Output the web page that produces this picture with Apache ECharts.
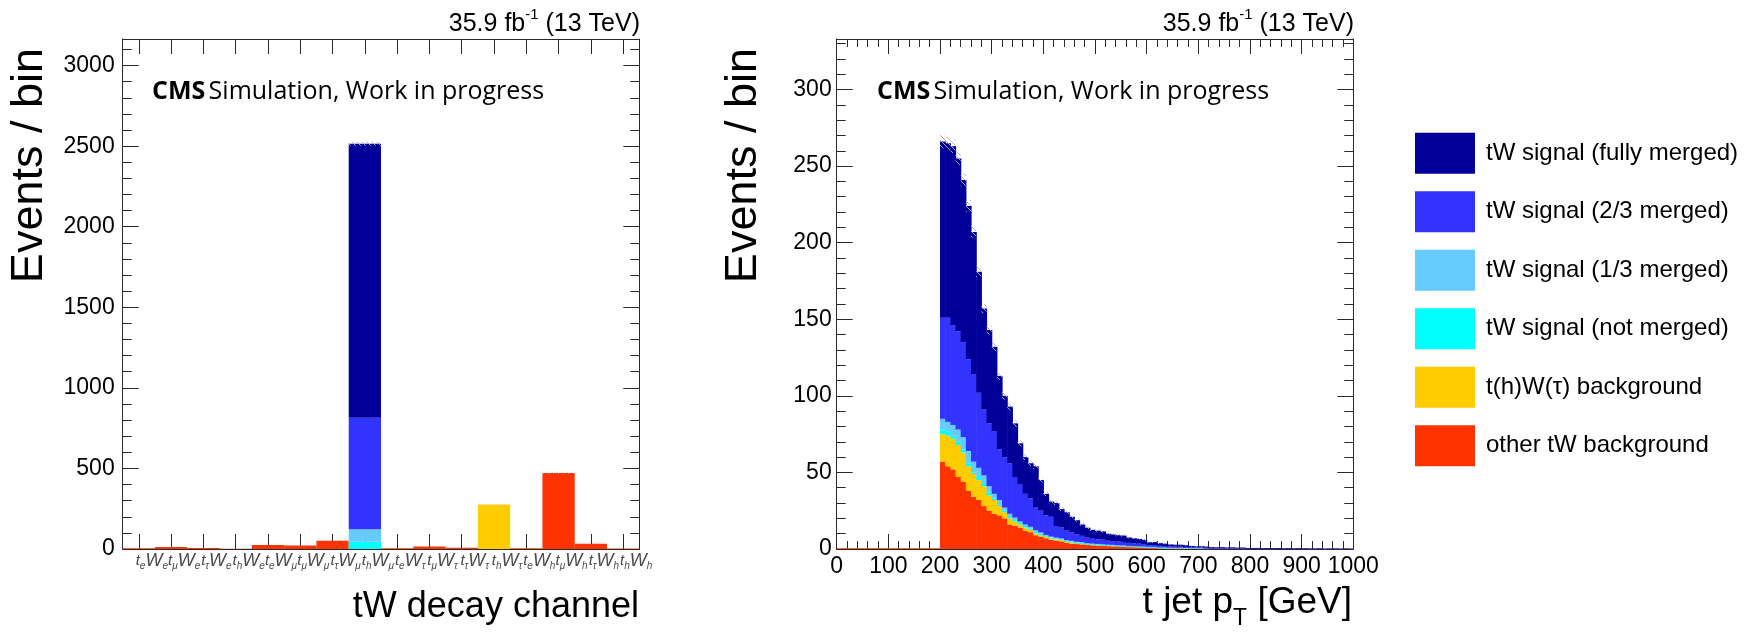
<!DOCTYPE html>
<html><head><meta charset="utf-8">
<script src="https://cdn.jsdelivr.net/npm/echarts@6/dist/echarts.min.js"></script>
<style>html,body{margin:0;padding:0;background:#fff}#c{width:1758px;height:632px}</style>
</head><body><div id="c"></div>
<script>
// ---------- names / colours ----------
const seriesNames = ['tW signal (fully merged)', 'tW signal (2/3 merged)', 'tW signal (1/3 merged)', 'tW signal (not merged)', 't(h)W(\u03c4) background', 'other tW background'];
const seriesColors = ['#000099', '#3333ff', '#66ccff', '#00ffff', '#ffcc00', '#ff3300'];

// ---------- left: tW decay channel ----------
const chanTop = ['e','\u03bc','\u03c4','h','e','\u03bc','\u03c4','h','e','\u03bc','\u03c4','h','e','\u03bc','\u03c4','h'];
const chanW   = ['e','e','e','e','\u03bc','\u03bc','\u03bc','\u03bc','\u03c4','\u03c4','\u03c4','\u03c4','h','h','h','h'];
const chFully   = [0,0,0,0,0,0,0,1700,0,0,0,0,0,0,0,0];
const chTwoThr  = [0,0,0,0,0,0,0,693,0,0,0,0,0,0,0,0];
const chOneThr  = [0,0,0,0,0,0,0,77,0,0,0,0,0,0,0,0];
const chNot     = [0,0,0,0,0,0,0,45,0,0,0,0,0,0,0,0];
const chThWtau  = [0,0,0,0,0,0,0,0,0,0,0,276,0,0,0,0];
const chOther   = [5,12,6,2,25,22,51,0,4,15,8,0,5,471,32,3];
const chUnc     = [0.5,0.8,0.5,0.3,1,1,1.5,12,0.4,0.8,0.6,3,0.5,4,1,0.3];

// ---------- right: t jet pT, 10 GeV bins from 200 to 1000 GeV ----------
const ptFirstEdge = 200, ptBinWidth = 10;
const ptBelow200Other = [0.5,0.5,0.5,0.5,0.5,0.5,0.5,0.5,0.5,0.5,0.5,0.5,0.5,0.5,0.5,0.5,0.5,0.5,0.5,0.5];
const ptOther = [57,54,52,47,44,38,34,32,28,25,23,22,20,16,15,14,12,11,9,8,7,6,5.5,5,4,3.5,
  3.2,3,2.6,2.4,2.2,2.1,1.9,1.8,1.7,1.6,1.4,1.3,1.3,1.1,0.9,0.9,0.8,0.7,0.6,0.6,
  0.6,0.5,0.4,0.4,0.4,0.3,0.3,0.3,0.3,0.2,0.3,0.2,0.2,0.2,0.2,0.2,0.1,0.2,0.1,0.2,
  0.1,0.1,0.1,0.1,0.1,0.1,0.1,0.1,0.1,0.1,0.1,0.1,0.1,0.1];
const ptThWtau = [18,20,20,21,19,16,15,13,13,10,9,6,4,4,3,2,2,1.5,1.2,1,1,0.9,0.8,0.8,0.7,0.7,
  0.6,0.6,0.5,0.5,0.5,0.4,0.4,0.4,0.3,0.3,0.3,0.3,0.2,0.2,0.2,0.2,0.1,0.1,0.1,0.1,
  0.1,0.1,0.1,0.1,0.1,0,0,0,0,0,0,0,0,0,0,0,0,0,0,0,0,0,0,0,0,0,0,0,0,0,0,0,0,0];
const ptNot = [3,3,2,2,2,2,1,2,2,2,1,1,1,1,1,1,1,1,1,1,0.5,0.5,0.5,0.5,0.5,0.5,
  0.3,0.3,0.2,0.2,0.2,0.2,0.2,0.2,0.1,0.1,0.1,0.1,0.1,0.1,0.1,0.1,0.1,0.1,
  0,0,0,0,0,0,0,0,0,0,0,0,0,0,0,0,0,0,0,0,0,0,0,0,0,0,0,0,0,0,0,0,0,0,0,0];
const ptOneThr = [7,6,7,8,8,8,7,6,5,4,3,3,2,2,1.5,1,1,1,1,0.8,0.7,0.7,0.6,0.6,0.6,0.6,
  0.6,0.5,0.5,0.4,0.4,0.4,0.3,0.3,0.3,0.3,0.2,0.2,0.2,0.2,0.2,0.2,0.1,0.1,0.1,0.1,
  0.1,0.1,0.1,0.1,0.1,0.1,0,0,0,0,0,0,0,0,0,0,0,0,0,0,0,0,0,0,0,0,0,0,0,0,0,0,0,0];
const ptTwoThr = [66,68,65,64,62,60,57,49,43,41,41,33,33,33,26.5,24,20,18.5,14.8,14.2,12.8,12.9,7.6,7.1,6.2,5.7,
  5,4.2,3.6,3.2,3,3,2.6,2.4,2.4,2.3,2,1.8,1.7,1.6,1.1,1.2,1,0.9,0.8,0.7,
  0.7,0.6,0.5,0.5,0.5,0.4,0.3,0.3,0.3,0.3,0.3,0.2,0.3,0.2,0.2,0.2,0.1,0.2,0.1,0.2,
  0.1,0.1,0.1,0.1,0.1,0.1,0.1,0.1,0.05,0.1,0.1,0.05,0.1,0.05];
const ptFully = [115,114,117,113,106,100,93,79,66,61,55,48,40,37,35,27,24,23,27,20,14,10,15,12,12,10,
  9.1,7.4,6.5,5.8,5.7,5.4,4.6,4.4,4.2,4.2,3.5,3.3,3.1,2.8,1.9,1.9,1.7,1.6,1.4,1.3,
  1.3,1.2,0.9,0.7,0.7,0.8,0.6,0.5,0.6,0.5,0.5,0.5,0.5,0.3,0.2,0.3,0.3,0.2,0.3,0.2,
  0.2,0.3,0.2,0.3,0.2,0.1,0.1,0.2,0.05,0.1,0.1,0.05,0.1,0.05];
// statistical uncertainty (+/-) on the stacked total
const ptUnc = [4.5,4.5,4.4,4.3,4.1,3.9,3.7,3.4,3.1,3,2.9,2.6,2.5,2.4,2.2,2,1.9,1.8,1.8,1.6,
  1.4,1.3,1.3,1.2,1.1,1.1,1,0.9,0.9,0.8,0.8,0.8,0.7,0.7,0.7,0.7,0.6,0.6,0.6,0.6,0.5,
  0.5,0.5,0.5,0.5,0.4,0.4,0.4,0.4,0.4,0.4,0.3,0.3,0.3,0.3,0.3,0.3,0.3,0.3,0.3,0.3,
  0.2,0.2,0.2,0.2,0.2,0.2,0.2,0.2,0.2,0.2,0.2,0.2,0.2,0.2,0.2,0.2,0.2,0.2,0.2];

// text
const lumiText = '35.9 fb';
const cmsLabel = 'Simulation, Work in progress';

// ---------- build ----------
const chart = echarts.init(document.getElementById('c'), null, {renderer: 'canvas'});
const FONT = 'Liberation Sans, Arial, Helvetica, sans-serif';
const HUM = 'Open Sans, Noto Sans, sans-serif';
const AX = '#2a2a2a';

// hatch pattern for the uncertainty band
const hatchCanvas = document.createElement('canvas');
hatchCanvas.width = 5; hatchCanvas.height = 5;
(function () {
  const g = hatchCanvas.getContext('2d');
  g.strokeStyle = 'rgba(175,175,175,0.95)'; g.lineWidth = 1;
  g.beginPath(); g.moveTo(-1, -1); g.lineTo(6, 6); g.stroke();
  g.beginPath(); g.moveTo(-1, 4); g.lineTo(1, 6); g.stroke();
  g.beginPath(); g.moveTo(4, -1); g.lineTo(6, 1); g.stroke();
})();
const hatchFill = {image: hatchCanvas, repeat: 'repeat'};

const leftStack = [chOther, chThWtau, chNot, chOneThr, chTwoThr, chFully]; // bottom -> top
const leftIdx = [5, 4, 3, 2, 1, 0];
const cats = chanTop.map((t, i) => t + '|' + chanW[i]);

function valAxis(grid, pos, opts) {
  return Object.assign({
    type: 'value', gridIndex: grid, position: pos, min: 0,
    axisLine: {show: true, onZero: false, lineStyle: {color: AX, width: 1}},
    axisTick: {show: true, inside: true, length: 15, lineStyle: {color: AX}},
    axisLabel: {show: false},
    splitLine: {show: false}
  }, opts);
}
const minorTick = len => ({show: true, inside: true, length: len, lineStyle: {color: AX}});
const LBL = '#4a4a4a';

const xAxes = [
  {type: 'category', gridIndex: 0, position: 'bottom', data: cats,
   axisLine: {show: true, onZero: false, lineStyle: {color: AX}},
   axisTick: {show: true, inside: true, length: 15, alignWithLabel: true, interval: 0, lineStyle: {color: AX}},
   axisLabel: {show: true, interval: 0, align: 'center', margin: 1, color: LBL, lineHeight: 22,
     formatter: (v, i) => '{g|}{t|t}{s|' + chanTop[i] + '}{w|W}{s|' + chanW[i] + '}',
     rich: {
       g: {width: 26, lineHeight: 22},
       t: {fontFamily: FONT, fontStyle: 'italic', fontSize: 15, lineHeight: 22, color: LBL},
       w: {fontFamily: FONT, fontStyle: 'italic', fontSize: 18, lineHeight: 22, color: LBL},
       s: {fontFamily: FONT, fontStyle: 'italic', fontSize: 10, lineHeight: 12, padding: [10, 0, 0, 0], color: LBL}
     }},
   splitLine: {show: false}},
  {type: 'category', gridIndex: 0, position: 'top', data: cats,
   axisLine: {show: true, onZero: false, lineStyle: {color: AX}},
   axisTick: {show: true, inside: true, length: 15, alignWithLabel: true, interval: 0, lineStyle: {color: AX}},
   axisLabel: {show: false}, splitLine: {show: false}},
  valAxis(1, 'bottom', {max: 1000, interval: 100,
    axisLabel: {show: true, margin: 6, fontFamily: FONT, fontSize: 23, color: '#000', formatter: v => String(v)}}),
  valAxis(1, 'bottom', {max: 1000, interval: 20, axisLine: {show: false, onZero: false}, axisTick: minorTick(8)}),
  valAxis(1, 'top', {max: 1000, interval: 100}),
  valAxis(1, 'top', {max: 1000, interval: 20, axisLine: {show: false, onZero: false}, axisTick: minorTick(8)})
];

const yAxes = [
  valAxis(0, 'left', {max: 3165, interval: 500, axisTick: minorTick(16),
    axisLabel: {show: true, margin: 8, fontFamily: FONT, fontSize: 23, color: '#000', formatter: v => (v % 500 === 0 ? String(v) : '')}}),
  valAxis(0, 'left', {max: 3165, interval: 100, axisLine: {show: false, onZero: false}, axisTick: minorTick(9)}),
  valAxis(0, 'right', {max: 3165, interval: 500, axisTick: minorTick(16)}),
  valAxis(0, 'right', {max: 3165, interval: 100, axisLine: {show: false, onZero: false}, axisTick: minorTick(9)}),
  valAxis(1, 'left', {max: 333, interval: 50, axisTick: minorTick(16),
    axisLabel: {show: true, margin: 5, fontFamily: FONT, fontSize: 23, color: '#000', formatter: v => (v % 50 === 0 ? String(v) : '')}}),
  valAxis(1, 'left', {max: 333, interval: 10, axisLine: {show: false, onZero: false}, axisTick: minorTick(9)}),
  valAxis(1, 'right', {max: 333, interval: 50, axisTick: minorTick(16)}),
  valAxis(1, 'right', {max: 333, interval: 10, axisLine: {show: false, onZero: false}, axisTick: minorTick(9)})
];

const series = [];
leftStack.forEach((arr, j) => {
  const k = leftIdx[j];
  series.push({
    type: 'bar', name: seriesNames[k], xAxisIndex: 0, yAxisIndex: 0, stack: 'ch',
    data: arr, barWidth: '100%', barCategoryGap: '0%',
    itemStyle: {color: seriesColors[k]}, silent: true, animation: false
  });
});
// left uncertainty hatch (category axis -> custom)
const leftTot = chOther.map((v, i) => v + chThWtau[i] + chNot[i] + chOneThr[i] + chTwoThr[i] + chFully[i]);
series.push({
  type: 'custom', name: 'unc-left', xAxisIndex: 0, yAxisIndex: 0, silent: true, animation: false, z: 5,
  data: leftTot.map((t, i) => [i, t - chUnc[i], t + chUnc[i]]),
  encode: {x: 0, y: [1, 2]},
  renderItem: (params, api) => {
    const i = api.value(0);
    const c0 = api.coord([i, api.value(1)]);
    const c1 = api.coord([i, api.value(2)]);
    const w = api.size([1, 0])[0];
    if (c0[1] - c1[1] < 1) return null;
    return {type: 'rect', shape: {x: c0[0] - w / 2, y: c1[1], width: w, height: c0[1] - c1[1]}, style: {fill: hatchFill}};
  }
});

// right chart: stacked histogram via custom series
const pad = n => new Array(n).fill(0);
const rightStack = [
  ptBelow200Other.concat(ptOther),
  pad(20).concat(ptThWtau),
  pad(20).concat(ptNot),
  pad(20).concat(ptOneThr),
  pad(20).concat(ptTwoThr),
  pad(20).concat(ptFully)
];
const nBins = rightStack[0].length;
const firstEdge = ptFirstEdge - 20 * ptBinWidth;
const cum = new Array(nBins).fill(0);
rightStack.forEach((arr, j) => {
  const k = leftIdx[j];
  const data = [];
  for (let i = 0; i < nBins; i++) {
    const lo = firstEdge + i * ptBinWidth;
    data.push([lo, lo + ptBinWidth, cum[i], cum[i] + arr[i]]);
    cum[i] += arr[i];
  }
  const color = seriesColors[k];
  series.push({
    type: 'custom', name: seriesNames[k], xAxisIndex: 2, yAxisIndex: 4,
    itemStyle: {color: color}, silent: true, animation: false, clip: true,
    encode: {x: [0, 1], y: [2, 3]},
    data: data,
    renderItem: (params, api) => {
      const p0 = api.coord([api.value(0), api.value(2)]);
      const p1 = api.coord([api.value(1), api.value(3)]);
      const h = p0[1] - p1[1];
      if (h <= 0.05) return null;
      return {type: 'rect', shape: {x: p0[0], y: p1[1], width: p1[0] - p0[0] + 0.6, height: Math.max(h, 0.8)},
              style: {fill: color}};
    }
  });
});
const uncRight = [];
for (let i = 0; i < ptUnc.length; i++) {
  const lo = ptFirstEdge + i * ptBinWidth;
  const t = cum[20 + i];
  uncRight.push([lo, lo + ptBinWidth, t - ptUnc[i], t + ptUnc[i]]);
}
series.push({
  type: 'custom', name: 'unc-right', xAxisIndex: 2, yAxisIndex: 4, silent: true, animation: false, z: 5, clip: true,
  encode: {x: [0, 1], y: [2, 3]},
  data: uncRight,
  renderItem: (params, api) => {
    const p0 = api.coord([api.value(0), api.value(2)]);
    const p1 = api.coord([api.value(1), api.value(3)]);
    const h = p0[1] - p1[1];
    if (h < 1) return null;
    return {type: 'rect', shape: {x: p0[0], y: p1[1], width: p1[0] - p0[0], height: h}, style: {fill: hatchFill}};
  }
});

const lumiRich = {
  a: {fontFamily: FONT, fontSize: 25, color: '#000', lineHeight: 30, verticalAlign: 'bottom'},
  sup: {fontFamily: FONT, fontSize: 15, color: '#000', lineHeight: 18, verticalAlign: 'top'}
};
const lumiStr = '{a|' + lumiText + '}{sup|-1}{a| (13 TeV)}';
const cmsRich = {
  b: {fontFamily: HUM, fontWeight: 'bold', fontSize: 25, color: '#000'},
  n: {fontFamily: HUM, fontSize: 25, color: '#000'}
};
const cmsStr = '{b|CMS} {n|' + cmsLabel + '}';

const graphics = [
  {type: 'text', x: 640, y: 22, silent: true, style: {text: lumiStr, rich: lumiRich, align: 'right', verticalAlign: 'middle'}},
  {type: 'text', x: 1354, y: 22, silent: true, style: {text: lumiStr, rich: lumiRich, align: 'right', verticalAlign: 'middle'}},
  {type: 'text', x: 152, y: 92, silent: true, style: {text: cmsStr, rich: cmsRich, align: 'left', verticalAlign: 'middle'}},
  {type: 'text', x: 877, y: 92, silent: true, style: {text: cmsStr, rich: cmsRich, align: 'left', verticalAlign: 'middle'}},
  {type: 'text', x: 639, y: 607, silent: true, style: {text: 'tW decay channel', font: '36px ' + FONT, fill: '#000', align: 'right', verticalAlign: 'middle'}},
  {type: 'text', x: 1352, y: 607, silent: true, style: {
    text: '{a|t jet p}{s|T}{a| [GeV]}', align: 'right', verticalAlign: 'middle',
    rich: {a: {fontFamily: FONT, fontSize: 37, color: '#000', lineHeight: 46, verticalAlign: 'top'},
           s: {fontFamily: FONT, fontSize: 23, color: '#000', lineHeight: 46, verticalAlign: 'bottom'}}}},
  {type: 'text', x: 30, y: 48, rotation: Math.PI / 2, silent: true, style: {text: 'Events / bin', font: '45px ' + FONT, fill: '#000', align: 'right', verticalAlign: 'middle'}},
  {type: 'text', x: 744, y: 48, rotation: Math.PI / 2, silent: true, style: {text: 'Events / bin', font: '45px ' + FONT, fill: '#000', align: 'right', verticalAlign: 'middle'}}
];

chart.setOption({
  animation: false,
  backgroundColor: '#fff',
  grid: [
    {left: 122.7, top: 39, width: 516.6, height: 510, containLabel: false},
    {left: 836.7, top: 39, width: 516.6, height: 510, containLabel: false}
  ],
  xAxis: xAxes,
  yAxis: yAxes,
  legend: {
    data: seriesNames, orient: 'vertical', left: 1415, top: 132.7, padding: 0,
    itemWidth: 60, itemHeight: 41, itemGap: 17.5, icon: 'rect', selectedMode: false,
    textStyle: {fontFamily: FONT, fontSize: 24, color: '#000', padding: [0, 0, 0, 6]}
  },
  series: series,
  graphic: graphics
});
</script></body></html>
